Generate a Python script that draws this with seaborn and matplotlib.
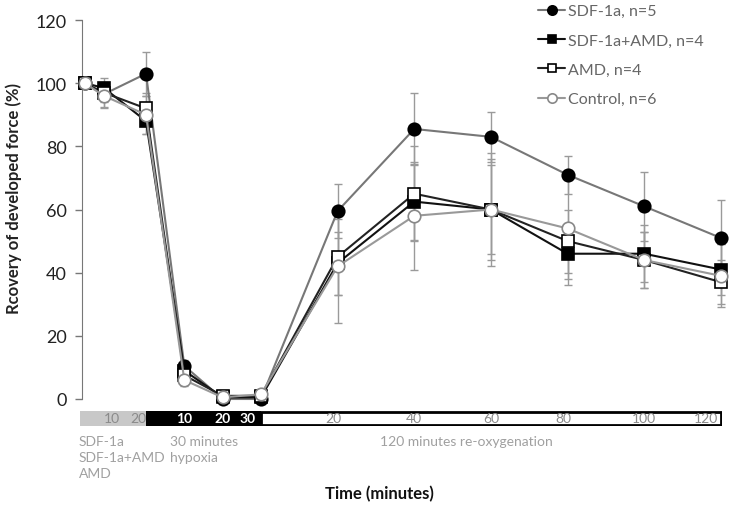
import matplotlib
matplotlib.use("Agg")
import matplotlib.pyplot as plt
import seaborn as sns
from matplotlib.patches import Rectangle

# sampling points, minutes along the protocol (pre-treatment part is squeezed like the original)
times = [4, 9, 20, 30, 40, 50, 70, 90, 110, 130, 150, 170]

sdf = [100, 96.5, 103, 10.5, 0, 0, 59.5, 85.5, 83, 71, 61, 51]
sdf_err = [0, 4, 7, 2, 0.5, 0.5, 8.5, 11.5, 8, 6, 11, 12]
sdf_amd = [100, 98.5, 88, 9, 0.5, 0.5, 43, 62.5, 60, 46, 46, 41]
sdf_amd_err = [0, 3, 4, 2, 0.5, 0.5, 10, 12, 14, 8, 9, 8]
amd = [100, 97, 92, 7.5, 1, 1, 45, 65, 60, 50, 44, 37]
amd_err = [0, 3, 5, 2, 0.5, 0.5, 12, 15, 16, 10, 9, 7]
control = [100, 96, 90, 6, 0.5, 1.5, 42, 58, 60, 54, 44, 39]
control_err = [0, 4, 6, 2, 0.5, 0.5, 18, 17, 18, 18, 9, 10]

labels = ['SDF-1a, n=5', 'SDF-1a+AMD, n=4', 'AMD, n=4', 'Control, n=6']

# protocol bar under the chart
phase_edges = [20, 50, 170]
pre_pos = [11, 20]
pre_lab = ['10', '20']
hyp_pos = [30, 40, 50]
hyp_lab = ['10', '20', '30']
reox_pos = [69, 90, 110, 129, 150, 170]
reox_lab = ['20', '40', '60', '80', '100', '120']

sns.set_style("white")
plt.rcParams['font.family'] = ['Lato', 'DejaVu Sans']

fig = plt.figure(figsize=(7.3, 5.06), dpi=100)
ax = fig.add_axes([82 / 730, 1 - 400 / 506, 640 / 730, 379 / 506])

series = [
    (sdf, sdf_err, 'o', 'black', 'black', '#777777'),
    (sdf_amd, sdf_amd_err, 's', 'black', 'black', '#111111'),
    (amd, amd_err, 's', 'white', 'black', '#222222'),
    (control, control_err, 'o', 'white', '#888888', '#999999'),
]

for (vals, err, mk, fc, ec, lc), lab in zip(series, labels):
    ax.errorbar(times, vals, yerr=err, fmt='none', ecolor='#9a9a9a',
                elinewidth=1, capsize=3, capthick=1, zorder=1, clip_on=False)
    sns.lineplot(x=times, y=vals, ax=ax, color=lc, linewidth=1.5, marker=mk,
                 markersize=9 if mk == 'o' else 8, markerfacecolor=fc,
                 markeredgecolor=ec, markeredgewidth=1.2, label=lab,
                 clip_on=False, zorder=3)

ax.set_xlim(3.3, 170.3)
ax.set_ylim(0, 120)
ax.set_yticks([0, 20, 40, 60, 80, 100, 120])
ax.set_xticks([])
ax.tick_params(axis='y', left=True, length=5, width=1, color='#777777',
               pad=6, labelsize=13, labelcolor='#222222')
for s in ['top', 'right', 'bottom']:
    ax.spines[s].set_visible(False)
ax.spines['left'].set_color('#777777')
ax.set_xlabel('')
ax.set_ylabel('')

fig.text(14 / 730, 1 - 199 / 506, 'Rcovery of developed force (%)', rotation=90,
         ha='center', va='center', fontsize=12, fontweight='bold', color='#222222')
fig.text(379 / 730, 1 - 494 / 506, 'Time (minutes)', ha='center', va='center',
         fontsize=12, fontweight='bold', color='#111111')

leg = ax.legend(loc='upper left', bbox_to_anchor=(538 / 730, 1 - 5 / 506),
                bbox_transform=fig.transFigure, frameon=False, fontsize=11.5,
                handlelength=1.7, handletextpad=0.2, labelspacing=0.95,
                borderpad=0, borderaxespad=0, markerscale=0.75)
for t in leg.get_texts():
    t.set_color('#666666')

# protocol bar
bar = fig.add_axes([80 / 730, 1 - 427 / 506, 642 / 730, 15 / 506])
x0 = 3.3 - 2 / 3.833
bar.set_xlim(x0, 170.3)
bar.set_ylim(0, 1)
bar.axis('off')
bar.add_patch(Rectangle((x0, 0), phase_edges[0] - x0, 1, color='#c8c8c8', lw=0))
bar.add_patch(Rectangle((phase_edges[0], 0), phase_edges[1] - phase_edges[0], 1,
                        color='black', lw=0))
bar.add_patch(Rectangle((phase_edges[1], 0.04), phase_edges[2] - phase_edges[1], 0.92,
                        facecolor='white', edgecolor='black', lw=2))
for p, l in zip(pre_pos, pre_lab):
    bar.text(p, 0.5, l, ha='center' if l != '20' else 'right', va='center',
             fontsize=10, color='#8a8a8a')
for p, l in zip(hyp_pos, hyp_lab):
    bar.text(p - (1.5 if l == '30' else 0), 0.5, l,
             ha='center' if l != '30' else 'right', va='center',
             fontsize=10, color='white', fontweight='bold')
for p, l in zip(reox_pos, reox_lab):
    bar.text(p - (0.7 if l == '120' else 0), 0.5, l,
             ha='center' if l != '120' else 'right', va='center',
             fontsize=10, color='#8a8a8a')

grey_txt = '#a0a0a0'
fig.text(79 / 730, 1 - 436 / 506, 'SDF-1a\nSDF-1a+AMD\nAMD', ha='left', va='top',
         fontsize=10, color=grey_txt, linespacing=1.4)
fig.text(170 / 730, 1 - 436 / 506, '30 minutes\nhypoxia', ha='left', va='top',
         fontsize=10, color=grey_txt, linespacing=1.4)
fig.text(380 / 730, 1 - 436 / 506, '120 minutes re-oxygenation', ha='left', va='top',
         fontsize=10, color=grey_txt)

fig.savefig('out.png', dpi=100)
